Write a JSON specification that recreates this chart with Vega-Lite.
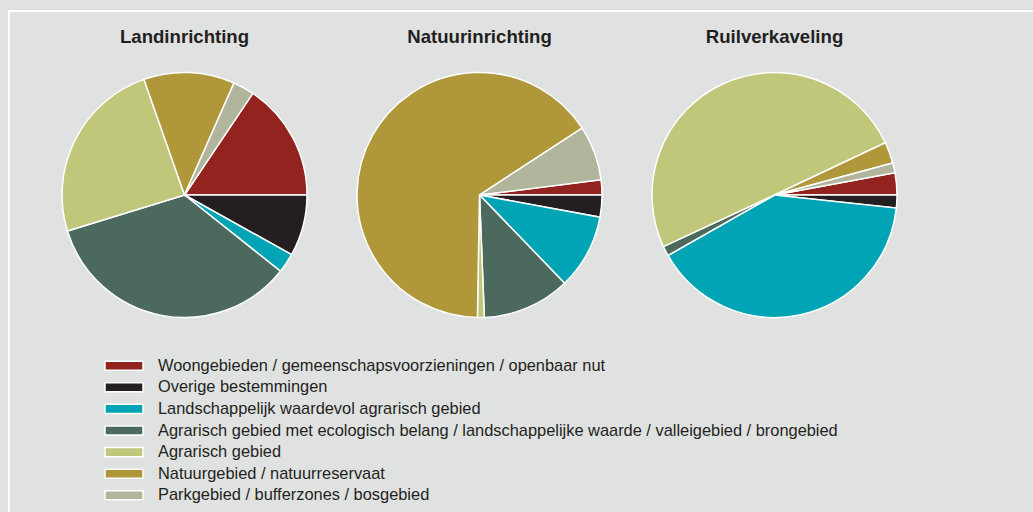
{
  "$schema": "https://vega.github.io/schema/vega-lite/v6.json",
  "width": 1030,
  "height": 510,
  "padding": {"left": 9, "top": 11, "right": 0, "bottom": 0},
  "background": "#e0e2e1",
  "config": {
    "view": {"stroke": "white", "strokeWidth": 2},
    "font": "Liberation Sans"
  },
  "datasets": {
    "pies": [
      {"plan": "Landinrichting", "category": "Woongebieden / gemeenschapsvoorzieningen / openbaar nut", "ord": 7, "value": 15.6},
      {"plan": "Landinrichting", "category": "Overige bestemmingen", "ord": 1, "value": 8.1},
      {"plan": "Landinrichting", "category": "Landschappelijk waardevol agrarisch gebied", "ord": 2, "value": 2.6},
      {"plan": "Landinrichting", "category": "Agrarisch gebied met ecologisch belang / landschappelijke waarde / valleigebied / brongebied", "ord": 3, "value": 34.6},
      {"plan": "Landinrichting", "category": "Agrarisch gebied", "ord": 4, "value": 24.4},
      {"plan": "Landinrichting", "category": "Natuurgebied / natuurreservaat", "ord": 5, "value": 12.0},
      {"plan": "Landinrichting", "category": "Parkgebied / bufferzones / bosgebied", "ord": 6, "value": 2.8},
      {"plan": "Natuurinrichting", "category": "Woongebieden / gemeenschapsvoorzieningen / openbaar nut", "ord": 7, "value": 2.0},
      {"plan": "Natuurinrichting", "category": "Overige bestemmingen", "ord": 1, "value": 2.9},
      {"plan": "Natuurinrichting", "category": "Landschappelijk waardevol agrarisch gebied", "ord": 2, "value": 9.9},
      {"plan": "Natuurinrichting", "category": "Agrarisch gebied met ecologisch belang / landschappelijke waarde / valleigebied / brongebied", "ord": 3, "value": 11.6},
      {"plan": "Natuurinrichting", "category": "Agrarisch gebied", "ord": 4, "value": 0.9},
      {"plan": "Natuurinrichting", "category": "Natuurgebied / natuurreservaat", "ord": 5, "value": 65.6},
      {"plan": "Natuurinrichting", "category": "Parkgebied / bufferzones / bosgebied", "ord": 6, "value": 7.2},
      {"plan": "Ruilverkaveling", "category": "Woongebieden / gemeenschapsvoorzieningen / openbaar nut", "ord": 7, "value": 2.9},
      {"plan": "Ruilverkaveling", "category": "Overige bestemmingen", "ord": 1, "value": 1.7},
      {"plan": "Ruilverkaveling", "category": "Landschappelijk waardevol agrarisch gebied", "ord": 2, "value": 40.0},
      {"plan": "Ruilverkaveling", "category": "Agrarisch gebied met ecologisch belang / landschappelijke waarde / valleigebied / brongebied", "ord": 3, "value": 1.3},
      {"plan": "Ruilverkaveling", "category": "Agrarisch gebied", "ord": 4, "value": 49.8},
      {"plan": "Ruilverkaveling", "category": "Natuurgebied / natuurreservaat", "ord": 5, "value": 2.8},
      {"plan": "Ruilverkaveling", "category": "Parkgebied / bufferzones / bosgebied", "ord": 6, "value": 1.3}
    ],
    "titles": [
      {"plan": "Landinrichting"},
      {"plan": "Natuurinrichting"},
      {"plan": "Ruilverkaveling"}
    ]
  },
  "encoding": {
    "x": {
      "field": "plan",
      "type": "nominal",
      "axis": null,
      "scale": {
        "type": "point",
        "domain": ["Landinrichting", "Natuurinrichting", "Ruilverkaveling"],
        "padding": 0.7458,
        "align": 0.3989
      }
    },
    "y": {
      "datum": "pie",
      "type": "nominal",
      "axis": null,
      "scale": {"type": "point", "domain": ["pie"], "padding": 0.5, "align": 0.3608}
    }
  },
  "layer": [
    {
      "data": {"name": "pies"},
      "transform": [
        {
          "stack": "value",
          "groupby": ["plan"],
          "sort": [{"field": "ord", "order": "ascending"}],
          "offset": "normalize",
          "as": ["v0", "v1"]
        }
      ],
      "mark": {"type": "arc", "radius": 122.5, "stroke": "white", "strokeWidth": 1.5},
      "encoding": {
        "theta": {
          "field": "v0",
          "type": "quantitative",
          "stack": null,
          "scale": {"domain": [0, 1], "range": [1.5708, 7.854]}
        },
        "theta2": {"field": "v1"},
        "color": {
          "field": "category",
          "type": "nominal",
          "scale": {
            "domain": [
              "Woongebieden / gemeenschapsvoorzieningen / openbaar nut",
              "Overige bestemmingen",
              "Landschappelijk waardevol agrarisch gebied",
              "Agrarisch gebied met ecologisch belang / landschappelijke waarde / valleigebied / brongebied",
              "Agrarisch gebied",
              "Natuurgebied / natuurreservaat",
              "Parkgebied / bufferzones / bosgebied"
            ],
            "range": ["#93231f", "#231f20", "#00a4b4", "#4b695d", "#c0c67a", "#b0973a", "#b0b59c"]
          },
          "legend": {
            "title": null,
            "orient": "none",
            "legendX": 95,
            "legendY": 346.7,
            "padding": 0,
            "clipHeight": 16,
            "symbolType": "M-1,-0.24H1V0.24H-1Z",
            "symbolSize": 1444,
            "symbolStrokeColor": "white",
            "symbolStrokeWidth": 1.5,
            "symbolOpacity": 1,
            "labelFont": "Liberation Sans",
            "labelFontSize": 16.4,
            "labelColor": "#231f20",
            "labelLimit": 1000,
            "labelOffset": 14,
            "rowPadding": 4.6
          }
        }
      }
    },
    {
      "data": {"name": "titles"},
      "mark": {
        "type": "text",
        "font": "Liberation Sans",
        "fontWeight": "bold",
        "fontSize": 18.6,
        "color": "#231f20",
        "baseline": "alphabetic",
        "align": "center",
        "dy": -151.7
      },
      "encoding": {
        "text": {"field": "plan", "type": "nominal"}
      }
    }
  ]
}
